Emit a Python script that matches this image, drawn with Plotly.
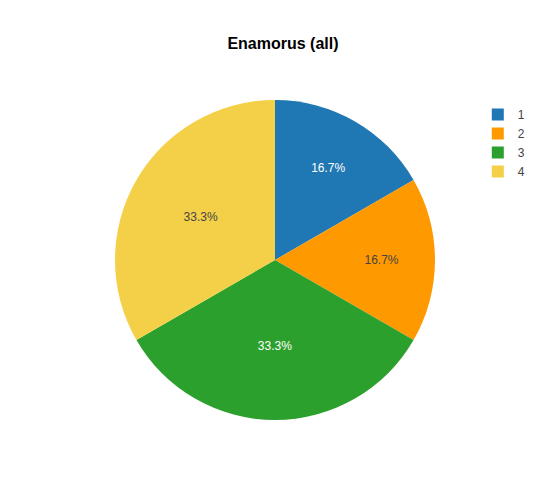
import plotly.graph_objects as go

labels = ["1", "2", "3", "4"]
values = [1, 1, 2, 2]
colors = ["#1f77b4", "#ff9900", "#2ca02c", "#f4d048"]

fig = go.Figure(go.Pie(
    labels=labels, values=values, sort=False, direction="clockwise",
    marker=dict(colors=colors), textinfo="percent",
))
fig.update_layout(
    title=dict(text="<b>Enamorus (all)</b>", x=0.5, y=0.93, yref="container", yanchor="middle",
               font=dict(size=16, color="black")),
    width=550, height=500,
    margin=dict(l=72, r=88, t=92, b=88),
    legend=dict(y=1.0, font=dict(color="#444")),
    font=dict(family="Arial, Liberation Sans", color="#444"),
)
fig.write_html("out.html")
